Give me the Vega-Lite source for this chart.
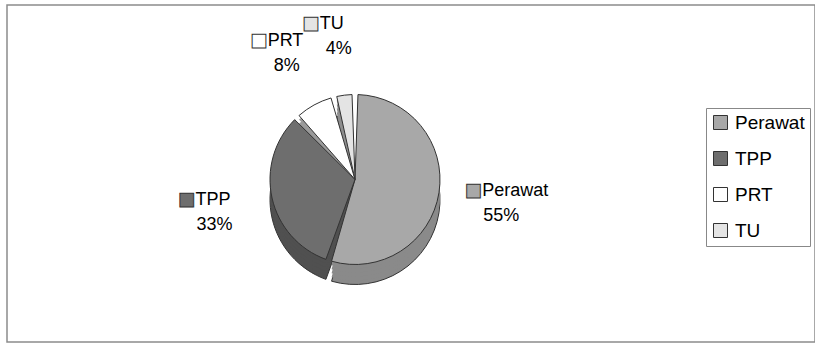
{
  "$schema": "https://vega.github.io/schema/vega-lite/v6.json",
  "width": 808,
  "height": 337,
  "autosize": {"type": "none"},
  "padding": {"left": 7, "top": 5, "right": 0, "bottom": 3},
  "background": "white",
  "view": {"stroke": "#8c8c8c", "strokeWidth": 1.5, "fill": "white"},
  "config": {"font": "Liberation Sans"},
  "data": {
    "values": [
      {"cat": "Perawat", "value": 55, "idx": 1, "pct": "55%"},
      {"cat": "TPP", "value": 33, "idx": 2, "pct": "33%"},
      {"cat": "PRT", "value": 8, "idx": 3, "pct": "8%"},
      {"cat": "TU", "value": 4, "idx": 4, "pct": "4%"}
    ]
  },
  "encoding": {
    "theta": {"field": "value", "type": "quantitative", "stack": true},
    "order": {"field": "idx", "type": "quantitative"}
  },
  "layer": [
    {
      "mark": {"type": "arc", "radius": 85, "padAngle": 0.07, "xOffset": -56, "yOffset": 26, "stroke": "#333", "strokeWidth": 1},
      "encoding": {"fill": {"field": "cat", "type": "nominal", "legend": null, "scale": {"domain": ["Perawat", "TPP", "PRT", "TU"], "range": ["#8a8a8a", "#505050", "#9a9a9a", "#8e8e8e"]}}}
    },
    {
      "mark": {"type": "arc", "radius": 85, "padAngle": 0.07, "xOffset": -56, "yOffset": 22},
      "encoding": {"fill": {"field": "cat", "type": "nominal", "legend": null, "scale": {"domain": ["Perawat", "TPP", "PRT", "TU"], "range": ["#8a8a8a", "#505050", "#9a9a9a", "#8e8e8e"]}}}
    },
    {
      "mark": {"type": "arc", "radius": 85, "padAngle": 0.07, "xOffset": -56, "yOffset": 18},
      "encoding": {"fill": {"field": "cat", "type": "nominal", "legend": null, "scale": {"domain": ["Perawat", "TPP", "PRT", "TU"], "range": ["#8a8a8a", "#505050", "#9a9a9a", "#8e8e8e"]}}}
    },
    {
      "mark": {"type": "arc", "radius": 85, "padAngle": 0.07, "xOffset": -56, "yOffset": 14},
      "encoding": {"fill": {"field": "cat", "type": "nominal", "legend": null, "scale": {"domain": ["Perawat", "TPP", "PRT", "TU"], "range": ["#8a8a8a", "#505050", "#9a9a9a", "#8e8e8e"]}}}
    },
    {
      "mark": {"type": "arc", "radius": 85, "padAngle": 0.07, "xOffset": -56, "yOffset": 10},
      "encoding": {"fill": {"field": "cat", "type": "nominal", "legend": null, "scale": {"domain": ["Perawat", "TPP", "PRT", "TU"], "range": ["#8a8a8a", "#505050", "#9a9a9a", "#8e8e8e"]}}}
    },
    {
      "mark": {"type": "arc", "radius": 85, "padAngle": 0.07, "xOffset": -56, "yOffset": 6, "stroke": "#333", "strokeWidth": 1},
      "encoding": {
        "fill": {
          "field": "cat", "type": "nominal",
          "scale": {"domain": ["Perawat", "TPP", "PRT", "TU"], "range": ["#a8a8a8", "#6e6e6e", "#ffffff", "#e4e4e4"]},
          "legend": {
            "orient": "none", "legendX": 699, "legendY": 103, "title": null,
            "symbolType": "square", "symbolSize": 196, "symbolStrokeColor": "#333", "symbolStrokeWidth": 1,
            "labelFontSize": 19, "labelFont": "Liberation Sans", "labelColor": "#000", "labelOffset": 5,
            "rowPadding": 16, "padding": 5, "strokeColor": "#888", "fillColor": "white"
          }
        }
      }
    },
    {
      "mark": {"type": "text", "radius": 146, "xOffset": -56, "yOffset": 6, "dx": -26, "dy": -11, "align": "center", "baseline": "middle", "fontSize": 18, "font": "DejaVu Sans", "stroke": "#333", "strokeWidth": 1, "text": "■"},
      "encoding": {
        "fill": {"field": "cat", "type": "nominal", "legend": null, "scale": {"domain": ["Perawat", "TPP", "PRT", "TU"], "range": ["#a8a8a8", "#6e6e6e", "#ffffff", "#e4e4e4"]}}
      }
    },
    {
      "mark": {"type": "text", "radius": 146, "xOffset": -56, "yOffset": 6, "dx": -17, "dy": -11, "align": "left", "baseline": "middle", "fontSize": 18, "color": "#000"},
      "encoding": {"text": {"field": "cat", "type": "nominal"}}
    },
    {
      "mark": {"type": "text", "radius": 146, "xOffset": -56, "yOffset": 6, "dx": 2, "dy": 14, "align": "center", "baseline": "middle", "fontSize": 18, "color": "#000"},
      "encoding": {"text": {"field": "pct", "type": "nominal"}}
    }
  ],
  "resolve": {"scale": {"fill": "independent"}}
}
